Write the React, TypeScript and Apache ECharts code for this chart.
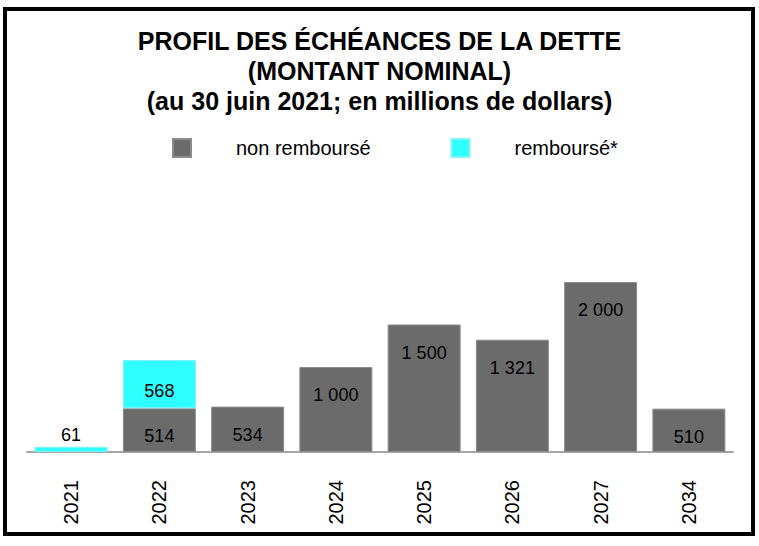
import React, { useEffect, useRef } from "react";
import * as echarts from "echarts";

const categories = ["2021", "2022", "2023", "2024", "2025", "2026", "2027", "2034"];
const nonRembourse: (number | null)[] = [null, 514, 534, 1000, 1500, 1321, 2000, 510];
const rembourse: (number | null)[] = [61, 568, null, null, null, null, null, null];
const titleLines = [
  "PROFIL DES ÉCHÉANCES DE LA DETTE",
  "(MONTANT NOMINAL)",
  "(au 30 juin 2021; en millions de dollars)",
];
const seriesNames = ["non remboursé", "remboursé*"];

const FONT = "'Liberation Sans', Arial, Helvetica, sans-serif";
const fmt = (v: number) => String(v).replace(/\B(?=(\d{3})+(?!\d))/g, " ");

export default function App() {
  const ref = useRef<HTMLDivElement>(null);
  useEffect(() => {
    document.body.style.margin = "0";
    if (!ref.current) return;
    const chart = echarts.init(ref.current, undefined, { renderer: "svg" });
    chart.setOption({
      animation: false,
      backgroundColor: "#ffffff",
      title: {
        text: titleLines.join("\n"),
        left: "center",
        top: 21,
        textStyle: {
          fontFamily: FONT,
          fontSize: 25,
          fontWeight: "bold",
          lineHeight: 30,
          color: "#000",
        },
      },
      legend: {
        data: seriesNames,
        left: 172,
        top: 138,
        padding: 0,
        icon: "rect",
        itemWidth: 18,
        itemHeight: 18,
        itemGap: 80,
        textStyle: {
          fontFamily: FONT,
          fontSize: 20,
          color: "#000",
          padding: [0, 0, 0, 40],
        },
      },
      grid: { left: 27, right: 26, top: 248, bottom: 94, containLabel: false },
      xAxis: {
        type: "category",
        data: categories,
        axisLine: { lineStyle: { color: "#a6a6a6", width: 2 } },
        axisTick: { show: false },
        axisLabel: {
          rotate: 90,
          margin: 28,
          fontFamily: FONT,
          fontSize: 20,
          color: "#000",
        },
      },
      yAxis: {
        type: "value",
        min: 0,
        max: 2400,
        show: false,
        splitLine: { show: false },
      },
      series: [
        {
          name: seriesNames[0],
          type: "bar",
          stack: "total",
          data: nonRembourse,
          barCategoryGap: "17.3%",
          itemStyle: { color: "#6b6b6b", borderColor: "#8c8c8c", borderWidth: 1 },
          label: {
            show: true,
            position: "insideTop",
            distance: 19,
            fontFamily: FONT,
            fontSize: 18,
            color: "#000",
            formatter: (p: any) => fmt(p.value),
          },
        },
        {
          name: seriesNames[1],
          type: "bar",
          stack: "total",
          data: rembourse.map((v, i) =>
            i === 0 && v != null
              ? { value: v, label: { position: "top", distance: 3 } }
              : v
          ),
          itemStyle: { color: "#2effff", borderColor: "#7ff5f5", borderWidth: 1 },
          label: {
            show: true,
            position: "insideTop",
            distance: 22,
            fontFamily: FONT,
            fontSize: 18,
            color: "#000",
            formatter: (p: any) => fmt(p.value),
          },
        },
      ],
      graphic: [
        {
          type: "rect",
          shape: { x: 5, y: 9, width: 748, height: 525 },
          style: { fill: "none", stroke: "#000", lineWidth: 4 },
          silent: true,
        },
      ],
    });
    return () => chart.dispose();
  }, []);
  return <div ref={ref} style={{ width: 759, height: 546 }} />;
}
